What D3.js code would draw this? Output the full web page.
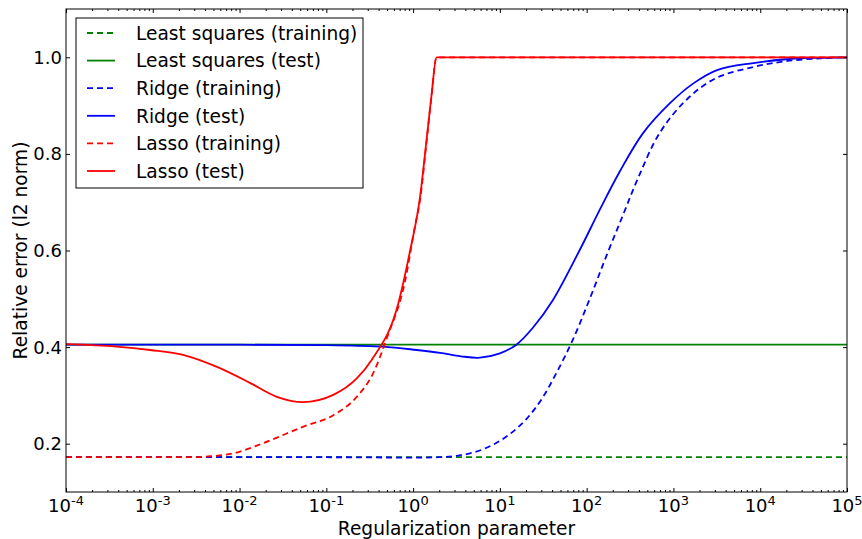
<!DOCTYPE html>
<html>
<head>
<meta charset="utf-8">
<script src="https://cdn.jsdelivr.net/npm/d3@7"></script>
<style>
  body { margin: 0; background: #fff; }
  svg { display: block; }
  text { font-family: "DejaVu Sans", sans-serif; fill: #000; }
  .axis path.domain { display: none; }
  .axis line { stroke: #000; stroke-width: 1; }
</style>
</head>
<body>
<svg id="chart" width="862" height="539"></svg>
<script>
// exponents of the regularization parameter (log10 lambda) and relative errors
var lsLogLambda = [-4, 5];
var lsTrainErr = [0.172, 0.172];
var lsTestErr = [0.405, 0.405];

var ridgeTrainLogLambda = [-4, -1, 0.3, 0.5, 0.7, 0.9, 1.1, 1.3, 1.48, 1.65, 1.84, 2.04, 2.23, 2.42, 2.59, 2.84, 3.15, 3.48, 3.92, 4.3, 4.7, 5];
var ridgeTrainErr = [0.172, 0.172, 0.172, 0.175, 0.182, 0.196, 0.218, 0.250, 0.292, 0.346, 0.415, 0.502, 0.590, 0.674, 0.749, 0.843, 0.912, 0.956, 0.980, 0.992, 0.998, 1.0];

var ridgeTestLogLambda = [-4, -2, -1, -0.35, 0.04, 0.31, 0.55, 0.77, 1.0, 1.19, 1.38, 1.61, 1.92, 2.15, 2.38, 2.65, 2.96, 3.23, 3.51, 3.92, 4.3, 4.7, 5];
var ridgeTestErr = [0.405, 0.405, 0.404, 0.401, 0.394, 0.388, 0.381, 0.378, 0.387, 0.405, 0.440, 0.497, 0.601, 0.684, 0.763, 0.843, 0.905, 0.946, 0.974, 0.988, 0.996, 0.999, 1.0];

var lassoTrainLogLambda = [-4, -3, -2.6, -2.34, -2.07, -1.73, -1.27, -0.92, -0.65, -0.46, -0.3, -0.09, 0.02, 0.08, 0.155, 0.21, 0.27, 5];
var lassoTrainErr = [0.172, 0.172, 0.172, 0.174, 0.180, 0.201, 0.235, 0.259, 0.297, 0.346, 0.42, 0.539, 0.649, 0.705, 0.825, 0.916, 1.0, 1.0];

var lassoTestLogLambda = [-4, -3.42, -3.03, -2.65, -2.26, -1.88, -1.57, -1.27, -0.92, -0.65, -0.48, -0.17, -0.04, 0.08, 0.155, 0.21, 0.27, 5];
var lassoTestErr = [0.406, 0.401, 0.394, 0.384, 0.359, 0.326, 0.297, 0.286, 0.301, 0.335, 0.373, 0.491, 0.595, 0.711, 0.829, 0.918, 1.0, 1.0];

var xTickExponents = [-4, -3, -2, -1, 0, 1, 2, 3, 4, 5];
var yTickValues = [0.2, 0.4, 0.6, 0.8, 1.0];

var series = [
    { name: "Least squares (training)", color: "#008000", dashed: true,  lam: lsLogLambda, err: lsTrainErr, smooth: false },
    { name: "Least squares (test)",     color: "#008000", dashed: false, lam: lsLogLambda, err: lsTestErr, smooth: false },
    { name: "Ridge (training)",         color: "#0000ff", dashed: true,  lam: ridgeTrainLogLambda, err: ridgeTrainErr, smooth: true },
    { name: "Ridge (test)",             color: "#0000ff", dashed: false, lam: ridgeTestLogLambda, err: ridgeTestErr, smooth: true },
    { name: "Lasso (training)",         color: "#ff0000", dashed: true,  lam: lassoTrainLogLambda, err: lassoTrainErr, smooth: false },
    { name: "Lasso (test)",             color: "#ff0000", dashed: false, lam: lassoTestLogLambda, err: lassoTestErr, smooth: false }
];

var margin = { top: 9, right: 15, bottom: 47, left: 66 },
    width = 862 - margin.left - margin.right,
    height = 539 - margin.top - margin.bottom;

var svg = d3.select("#chart")
    .append("g")
    .attr("transform", "translate(" + margin.left + "," + margin.top + ")");

var x = d3.scaleLog()
    .domain([1e-4, 1e5])
    .range([0, width]);

var y = d3.scaleLinear()
    .domain([0.1, 1.1])
    .range([height, 0]);

svg.append("clipPath").attr("id", "plotClip")
    .append("rect").attr("width", width).attr("height", height);

// lines
var lines = svg.append("g").attr("clip-path", "url(#plotClip)");
series.forEach(function(s) {
    var pts = s.lam.map(function(l, i) { return { lam: Math.pow(10, l), err: s.err[i] }; });
    var line = d3.line()
        .x(function(d) { return x(d.lam); })
        .y(function(d) { return y(d.err); })
        .curve(s.smooth ? d3.curveCatmullRom.alpha(0.5) : d3.curveMonotoneX);
    lines.append("path")
        .datum(pts)
        .attr("fill", "none")
        .attr("stroke", s.color)
        .attr("stroke-width", 1.8)
        .attr("stroke-dasharray", s.dashed ? "6,4" : null)
        .attr("d", line);
});

// ticks (inward, on all four sides)
var majorX = xTickExponents.map(function(e) { return Math.pow(10, e); });
var minorX = x.ticks().filter(function(v) {
    var l = Math.log10(v);
    return Math.abs(l - Math.round(l)) > 1e-6;
});

function addTicks(axisFn, scale, values, size, transform) {
    svg.append("g")
        .attr("class", "axis")
        .attr("transform", transform)
        .call(axisFn(scale).tickValues(values).tickSize(-size).tickFormat(""));
}

addTicks(d3.axisBottom, x, majorX, 4, "translate(0," + height + ")");
addTicks(d3.axisBottom, x, minorX, 2, "translate(0," + height + ")");
addTicks(d3.axisTop, x, majorX, 4, "translate(0,0)");
addTicks(d3.axisTop, x, minorX, 2, "translate(0,0)");
addTicks(d3.axisLeft, y, yTickValues, 4, "translate(0,0)");
addTicks(d3.axisRight, y, yTickValues, 4, "translate(" + width + ",0)");

// frame
svg.append("rect")
    .attr("width", width)
    .attr("height", height)
    .attr("fill", "none")
    .attr("stroke", "#000")
    .attr("stroke-width", 1);

// x tick labels 10^n
var xLabels = svg.append("g")
    .selectAll("text")
    .data(xTickExponents)
    .enter().append("text")
    .attr("x", function(d) { return x(Math.pow(10, d)); })
    .attr("y", height + 20)
    .attr("text-anchor", "middle")
    .style("font-size", "18px");
xLabels.append("tspan").text("10");
xLabels.append("tspan")
    .attr("dy", -7)
    .style("font-size", "13px")
    .text(function(d) { return d < 0 ? "-" + Math.abs(d) : d; });

// y tick labels
svg.append("g")
    .selectAll("text")
    .data(yTickValues)
    .enter().append("text")
    .attr("x", -4)
    .attr("y", function(d) { return y(d); })
    .attr("dy", "0.36em")
    .attr("text-anchor", "end")
    .style("font-size", "18px")
    .text(d3.format(".1f"));

// axis titles
svg.append("text")
    .attr("x", width / 2)
    .attr("y", height + 43)
    .attr("text-anchor", "middle")
    .style("font-size", "18.6px")
    .text("Regularization parameter");

svg.append("text")
    .attr("transform", "translate(" + (27 - margin.left) + "," + (height / 2) + ") rotate(-90)")
    .attr("text-anchor", "middle")
    .style("font-size", "18.6px")
    .text("Relative error (l2 norm)");

// legend
var legend = svg.append("g")
    .attr("transform", "translate(" + (76 - margin.left) + "," + (18 - margin.top) + ")");

legend.append("rect")
    .attr("width", 287)
    .attr("height", 170)
    .attr("fill", "#fff")
    .attr("stroke", "#000")
    .attr("stroke-width", 1);

var rows = legend.selectAll(".row")
    .data(series)
    .enter().append("g")
    .attr("class", "row")
    .attr("transform", function(d, i) { return "translate(0," + (15 + i * 27.6) + ")"; });

rows.append("line")
    .attr("x1", 11).attr("x2", 39)
    .attr("stroke", function(d) { return d.color; })
    .attr("stroke-width", 1.8)
    .attr("stroke-dasharray", function(d) { return d.dashed ? "6,4" : null; });

rows.append("text")
    .attr("x", 60)
    .attr("dy", "0.36em")
    .style("font-size", "18.6px")
    .text(function(d) { return d.name; });
</script>
</body>
</html>
